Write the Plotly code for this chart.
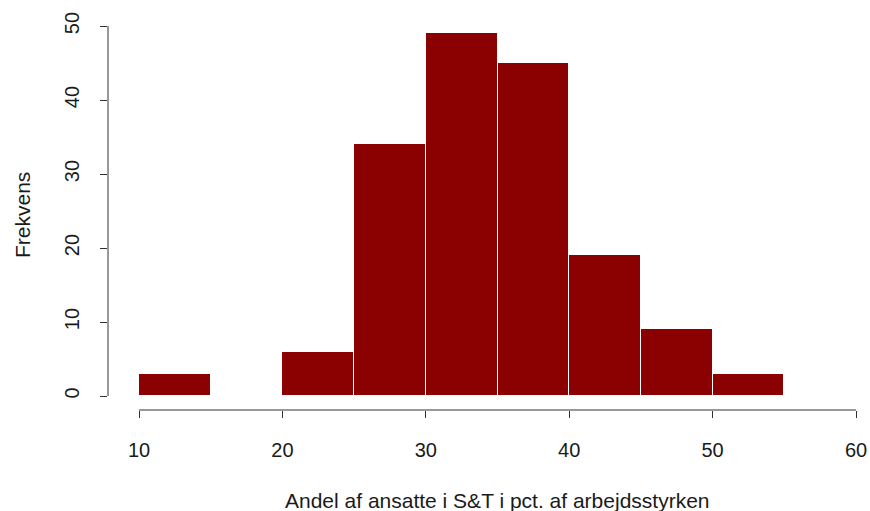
import plotly.graph_objects as go

bin_starts = [10, 15, 20, 25, 30, 35, 40, 45, 50]
bin_width = 5
counts = [3, 0, 6, 34, 49, 45, 19, 9, 3]
x_ticks = [10, 20, 30, 40, 50, 60]
y_ticks = [0, 10, 20, 30, 40, 50]
x_title = "Andel af ansatte i S&T i pct. af arbejdsstyrken"
y_title = "Frekvens"

centers = [s + bin_width / 2 for s in bin_starts]

W, H = 870, 511
ml, mr, mt, mb = 108, 10, 20, 511 - 410
px_per_x = 14.34
px_per_y = 7.4
x0 = x_ticks[0] - (139 - 108) / px_per_x
x1 = x0 + (W - ml - mr) / px_per_x
y0 = -(410 - 396) / px_per_y
y1 = y0 + (H - mt - mb) / px_per_y

font = dict(family="Liberation Sans, Arial, sans-serif", size=20, color="#1a1a1a")
tfont = dict(family="Liberation Sans, Arial, sans-serif", size=21, color="#1a1a1a")

fig = go.Figure(go.Bar(
    x=centers, y=counts, width=bin_width,
    marker=dict(color="#8B0000", line=dict(color="white", width=1)),
    hoverinfo="skip",
))

fig.update_layout(
    width=W, height=H, margin=dict(l=ml, r=mr, t=mt, b=mb, autoexpand=False),
    plot_bgcolor="white", paper_bgcolor="white", showlegend=False,
    font=font, bargap=0,
    xaxis=dict(range=[x0, x1], tickvals=x_ticks, ticks="outside", ticklen=7,
               tickcolor="#333", showgrid=False, zeroline=False, showline=False,
               ticklabelstandoff=15, automargin=False),
    yaxis=dict(range=[y0, y1], tickvals=y_ticks, ticks="outside", ticklen=7,
               tickcolor="#333", showgrid=False, zeroline=False, showline=False,
               tickangle=-90, ticklabelstandoff=13, automargin=False),
    shapes=[
        dict(type="line", xref="x", yref="paper", x0=x_ticks[0], x1=x_ticks[-1], y0=0, y1=0,
             line=dict(color="#333", width=1)),
        dict(type="line", xref="paper", yref="y", x0=0, x1=0, y0=y_ticks[0], y1=y_ticks[-1],
             line=dict(color="#333", width=1)),
    ],
    annotations=[
        dict(text=x_title, xref="paper", yref="paper", x=(498 - 108) / (W - ml - mr), y=0,
             yshift=-(500 - 410), showarrow=False, xanchor="center", yanchor="middle", font=tfont),
        dict(text=y_title, xref="paper", yref="paper", x=0, xshift=-(108 - 22), y=0.5,
             showarrow=False, textangle=-90, xanchor="center", yanchor="middle", font=tfont),
    ],
)

fig.write_html("out.html", config={"displayModeBar": False},
               post_script="document.body.style.margin='0';document.body.style.overflow='hidden';")
